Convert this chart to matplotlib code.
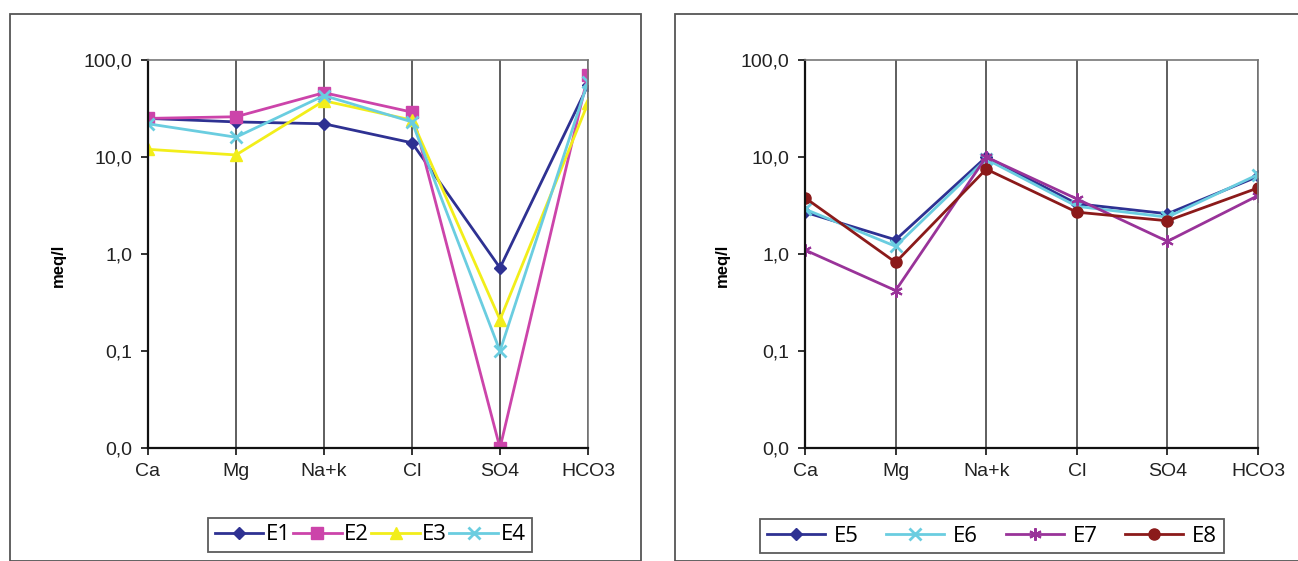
import matplotlib
matplotlib.use("Agg")
import matplotlib.pyplot as plt
from matplotlib.patches import Rectangle
from matplotlib.ticker import FixedLocator, NullLocator

plt.rcParams['font.family'] = ['Liberation Sans', 'DejaVu Sans']

# categories on the x axis
ions = ["Ca", "Mg", "Na+k", "Cl", "SO4", "HCO3"]

# left panel, meq/l
e1 = [25, 23, 22, 14, 0.72, 55]
e2 = [25, 26, 46, 29, 0.01, 70]
e3 = [12, 10.5, 38, 24, 0.21, 36]
e4 = [22, 16, 43, 23, 0.10, 60]

# right panel, meq/l
e5 = [2.7, 1.4, 10, 3.3, 2.6, 6.3]
e6 = [2.9, 1.2, 9.5, 3.1, 2.4, 6.6]
e7 = [1.1, 0.42, 10, 3.7, 1.35, 4.0]
e8 = [3.8, 0.82, 7.5, 2.7, 2.2, 4.8]

yticks = [0.01, 0.1, 1, 10, 100]
ylabels = ["0,0", "0,1", "1,0", "10,0", "100,0"]

W, H = 1298, 561
fig = plt.figure(figsize=(W / 100, H / 100), dpi=100)

# outer frames round each chart
fig.patches.append(Rectangle((10 / W, 0), 631 / W, 1 - 14 / H, transform=fig.transFigure,
                             fill=False, edgecolor="#555555", linewidth=1.3))
fig.patches.append(Rectangle((675 / W, 0), 640 / W, 1 - 14 / H, transform=fig.transFigure,
                             fill=False, edgecolor="#555555", linewidth=1.3))

ax1 = fig.add_axes([148 / W, (H - 448) / H, 440 / W, 388 / H])
ax2 = fig.add_axes([805 / W, (H - 448) / H, 453 / W, 388 / H])

x = list(range(len(ions)))

ax1.plot(x, e1, color="#2E3192", marker="D", markersize=6, lw=2, label="E1")
ax1.plot(x, e2, color="#CC44AA", marker="s", markersize=8, lw=2, label="E2")
ax1.plot(x, e3, color="#F2EE1A", marker="^", markersize=8, lw=2, label="E3")
ax1.plot(x, e4, color="#6ACDE0", marker="x", markersize=8, mew=2, lw=2, label="E4")

ax2.plot(x, e5, color="#2E3192", marker="D", markersize=6, lw=2, label="E5")
ax2.plot(x, e6, color="#6ACDE0", marker="x", markersize=8, mew=2, lw=2, label="E6")
ax2.plot(x, e7, color="#993399", marker=(6, 2, 0), markersize=9, mew=1.5, lw=2, label="E7")
ax2.plot(x, e8, color="#8B1A1A", marker="o", markersize=8, lw=2, label="E8")

for ax, lx in [(ax1, 58), (ax2, 722)]:
    ax.set_yscale("log")
    ax.set_ylim(0.01, 100)
    ax.set_xlim(0, 5)
    ax.yaxis.set_major_locator(FixedLocator(yticks))
    ax.yaxis.set_minor_locator(NullLocator())
    ax.set_yticklabels(ylabels)
    ax.set_xticks(x)
    ax.set_xticklabels(ions)
    ax.tick_params(axis="both", labelsize=14, colors="#222222", length=5, width=1.3)
    ax.tick_params(axis="x", pad=6)
    ax.tick_params(axis="y", pad=6)
    ax.grid(axis="x", color="#333333", linewidth=1.1)
    ax.set_axisbelow(True)
    for s in ["left", "bottom"]:
        ax.spines[s].set_color("#111111")
        ax.spines[s].set_linewidth(1.6)
    for s in ["top", "right"]:
        ax.spines[s].set_color("#777777")
        ax.spines[s].set_linewidth(1.2)
    fig.text(lx / W, 1 - 265 / H, "meq/l", rotation=90, fontsize=12, fontweight="bold",
             ha="center", va="center")

leg1 = fig.legend(*ax1.get_legend_handles_labels(), loc="center", ncol=4,
                  bbox_to_anchor=(370 / W, 1 - 535 / H), frameon=True, fancybox=False,
                  edgecolor="#333333", handlelength=2.2, handletextpad=0.1, columnspacing=0.1,
                  borderpad=0.3, prop={"family": "Open Sans", "size": 16})
leg1.get_frame().set_linewidth(1.3)
leg2 = fig.legend(*ax2.get_legend_handles_labels(), loc="center", ncol=4,
                  bbox_to_anchor=(992 / W, 1 - 536 / H), frameon=True, fancybox=False,
                  edgecolor="#333333", handlelength=2.6, handletextpad=0.4, columnspacing=1.25,
                  borderpad=0.3, prop={"family": "Open Sans", "size": 16})
leg2.get_frame().set_linewidth(1.3)

plt.savefig("out.png", dpi=100)
